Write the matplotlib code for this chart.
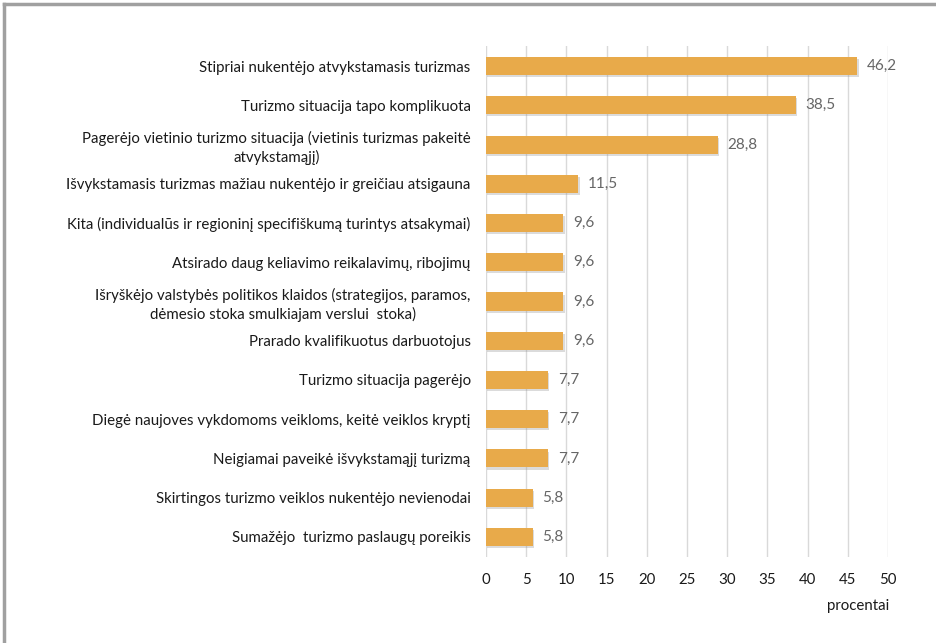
import matplotlib.pyplot as plt
import matplotlib.patheffects as pe
from matplotlib.lines import Line2D

categories = [
    "Stipriai nukentėjo atvykstamasis turizmas",
    "Turizmo situacija tapo komplikuota",
    "Pagerėjo vietinio turizmo situacija (vietinis turizmas pakeitė\natvykstamąjį)",
    "Išvykstamasis turizmas mažiau nukentėjo ir greičiau atsigauna",
    "Kita (individualūs ir regioninį specifiškumą turintys atsakymai)",
    "Atsirado daug keliavimo reikalavimų, ribojimų",
    "Išryškėjo valstybės politikos klaidos (strategijos, paramos,\ndėmesio stoka smulkiajam verslui  stoka)",
    "Prarado kvalifikuotus darbuotojus",
    "Turizmo situacija pagerėjo",
    "Diegė naujoves vykdomoms veikloms, keitė veiklos kryptį",
    "Neigiamai paveikė išvykstamąjį turizmą",
    "Skirtingos turizmo veiklos nukentėjo nevienodai",
    "Sumažėjo  turizmo paslaugų poreikis",
]
values = [46.2, 38.5, 28.8, 11.5, 9.6, 9.6, 9.6, 9.6, 7.7, 7.7, 7.7, 5.8, 5.8]
xticks = list(range(0, 51, 5))

plt.rcParams["font.family"] = ["Lato", "DejaVu Sans"]

fig = plt.figure(figsize=(9.37, 6.43), dpi=100)
ax = fig.add_axes([0.5187, 0.1344, 0.4290, 0.7934])

pos = range(len(categories))
bars = ax.barh(pos, values, height=0.46, color="#E8AA4A", zorder=3)
for b in bars:
    b.set_path_effects([
        pe.SimplePatchShadow(offset=(1, -1.5), shadow_rgbFace="#8a8a8a", alpha=0.3),
        pe.Normal(),
    ])

for y, v in zip(pos, values):
    ax.annotate(f"{v:.1f}".replace(".", ","), (v, y), xytext=(7, 0),
                textcoords="offset points", va="center", ha="left",
                fontsize=11, color="#666666")

ax.set_xlim(0, 50)
ax.set_ylim(len(categories) - 0.5, -0.5)
ax.set_xticks(xticks)
ax.set_yticks(list(pos))
ax.set_yticklabels(categories, multialignment="center", linespacing=1.35)
ax.tick_params(axis="y", length=0, pad=11, labelsize=10.8, labelcolor="#1a1a1a")
ax.tick_params(axis="x", length=0, pad=12, labelsize=10.8, labelcolor="#1a1a1a")
ax.grid(axis="x", color="#d9d9d9", linewidth=1, zorder=0)
for s in ax.spines.values():
    s.set_visible(False)

fig.text(858 / 937, 1 - 606 / 643, "procentai", ha="center", va="center",
         fontsize=10.8, color="#1a1a1a")

# outer frame, only top and left edges are visible
fig.add_artist(Line2D([4 / 937, 4 / 937], [0, 1 - 4 / 643], color="#a0a0a0", lw=2.5))
fig.add_artist(Line2D([4 / 937, 1], [1 - 4 / 643, 1 - 4 / 643], color="#a0a0a0", lw=2.5))

fig.savefig("out.png", dpi=100)
